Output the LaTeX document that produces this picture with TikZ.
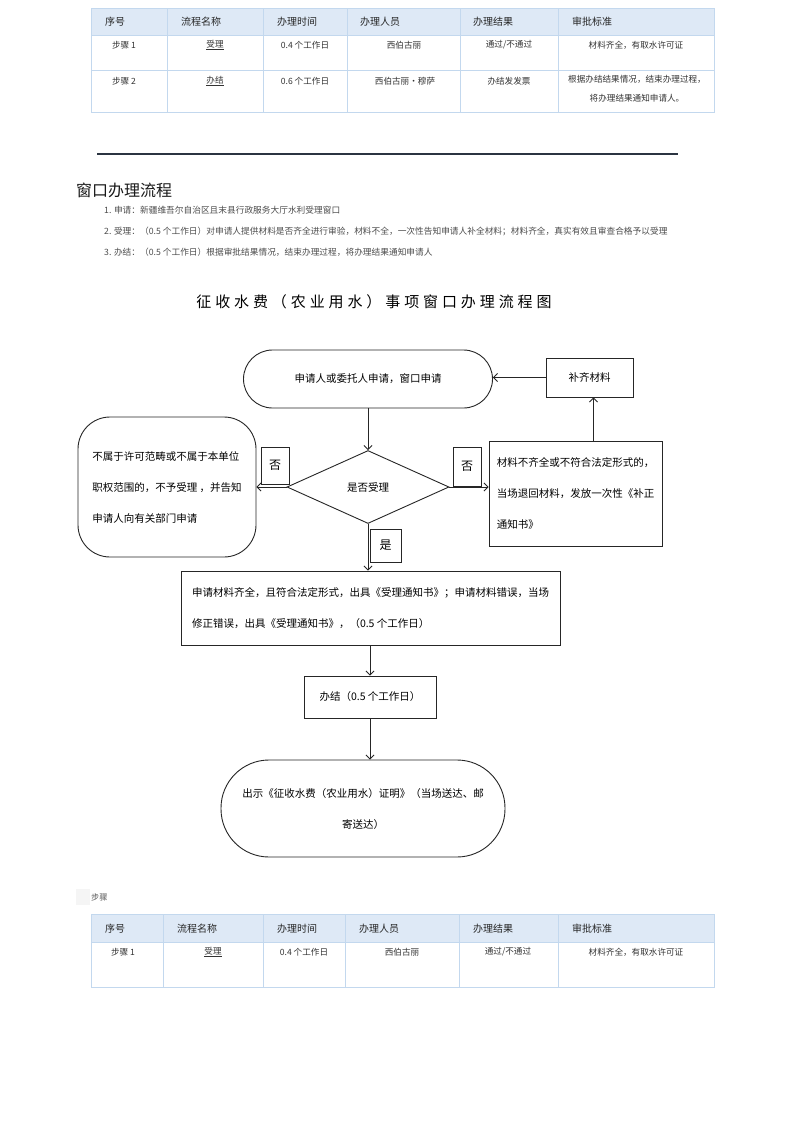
\documentclass[tikz,border=0pt]{standalone}
\usepackage{fontspec}
\setmainfont{Noto Sans CJK SC}
\usetikzlibrary{arrows.meta,shapes.geometric}
\definecolor{tborder}{HTML}{C3D8EE}
\definecolor{thead}{HTML}{DEE9F6}
\definecolor{ttext}{HTML}{333333}
\definecolor{rulec}{HTML}{2B3441}
\newcommand\tsp{\hspace{3.9pt}}
\begin{document}
\begin{tikzpicture}[x=1pt,y=-1pt,
  tbl/.style={draw=tborder,line width=0.9pt},
  th/.style={anchor=west,inner sep=0pt,text=black!85,font=\fontsize{10}{12}\selectfont},
  td/.style={inner sep=0pt,text=ttext,font=\fontsize{8.6}{19}\selectfont,align=center},
  item/.style={anchor=west,inner sep=0pt,text=black!70,font=\fontsize{8.7}{10}\selectfont},
  fbox/.style={draw=black!85,line width=0.9pt,fill=white,inner sep=0pt,font=\fontsize{10.5}{31}\selectfont},
  lbl/.style={draw=black!85,line width=0.9pt,fill=white,inner sep=0pt,font=\fontsize{12}{14}\selectfont},
  arr/.style={draw=black!85,line width=0.8pt,-{Straight Barb[length=4pt,width=8pt]}}]
\useasboundingbox (0,0) rectangle (793,1122);
\fill[white] (0,0) rectangle (793,1122);

% ---------- top table ----------
\fill[thead] (91,8) rectangle (714,35);
\draw[tbl] (91,8) rectangle (714,112);
\foreach \x in {167,263,347,460,558} \draw[tbl] (\x,8) -- (\x,112);
\draw[tbl] (91,35) -- (714,35);
\draw[tbl] (91,70) -- (714,70);
\node[th] (ah1) at (105,22) {序号};
\node[th] (ah2) at (181,22) {流程名称};
\node[th] (ah3) at (277,22) {办理时间};
\node[th] (ah4) at (360,22) {办理人员};
\node[th] (ah5) at (473,22) {办理结果};
\node[th] (ah6) at (572,22) {审批标准};
\node[td] (a11) at (124,45) {步骤 1};
\node[td] (a12) at (215,45) {\underline{受理}};
\node[td] (a13) at (305,45) {0.4 个工作日};
\node[td] (a14) at (404,45) {西伯古丽};
\node[td] (a15) at (509,45) {通过/不通过};
\node[td] (a16) at (636,45) {材料齐全，有取水许可证};
\node[td] (a21) at (124,81) {步骤 2};
\node[td] (a22) at (215,81) {\underline{办结}};
\node[td] (a23) at (305,81) {0.6 个工作日};
\node[td] (a24) at (405,81) {西伯古丽・穆萨};
\node[td] (a25) at (509,81) {办结发发票};
\node[td,anchor=north] (a26) at (637,75) {根据办结结果情况，结束办理过程，\\将办理结果通知申请人。};

% ---------- rule ----------
\draw[rulec,line width=1.5pt] (97,154) -- (678,154);

% ---------- heading and items ----------
\node[anchor=west,inner sep=0pt,text=black!90,font=\fontsize{16}{18}\selectfont] (head) at (76,190) {窗口办理流程};
\node[item] (it1) at (104,210) {1. 申请：新疆维吾尔自治区且末县行政服务大厅水利受理窗口};
\node[item] (it2) at (104,231) {2. 受理：（0.5 个工作日）对申请人提供材料是否齐全进行审验，材料不全，一次性告知申请人补全材料；材料齐全，真实有效且审查合格予以受理};
\node[item] (it3) at (104,252) {3. 办结：（0.5 个工作日）根据审批结果情况，结束办理过程，将办理结果通知申请人};

% ---------- flowchart title ----------
\node[inner sep=0pt,font=\fontsize{15}{18}\selectfont] (title) at (374,302) {征\tsp 收\tsp 水\tsp 费\tsp （\tsp 农\tsp 业\tsp 用\tsp 水\tsp ）\tsp 事\tsp 项\tsp 窗\tsp 口\tsp 办\tsp 理\tsp 流\tsp 程\tsp 图};

% ---------- flowchart ----------
\node[fbox,rounded corners=29pt,minimum width=249pt,minimum height=58pt] (st) at (368,379) {申请人或委托人申请，窗口申请};
\node[fbox,minimum width=87pt,minimum height=39pt] (bq) at (589.5,377.5) {补齐材料};
\node[fbox,diamond,aspect=2.2,minimum width=162pt,minimum height=73pt] (dia) at (368,487) {是否受理};
\node[fbox,rounded corners=32pt,minimum width=178pt,minimum height=140pt,align=left] (lb) at (167,487) {不属于许可范畴或不属于本单位\\职权范围的，不予受理 ，并告知\\申请人向有关部门申请};
\node[fbox,minimum width=173pt,minimum height=105pt,align=left] (rb) at (575.5,493.5) {材料不齐全或不符合法定形式的，\\当场退回材料，发放一次性《补正\\通知书》};
\node[fbox,minimum width=379pt,minimum height=74pt,align=left] (b3) at (370.5,608) {申请材料齐全，且符合法定形式，出具《受理通知书》；申请材料错误，当场\\修正错误，出具《受理通知书》，（0.5 个工作日）};
\node[fbox,minimum width=132pt,minimum height=42pt] (bj) at (370,697) {办结（0.5 个工作日）};
\node[fbox,rounded corners=48pt,minimum width=284pt,minimum height=97pt,align=center] (en) at (363,808.5) {出示《征收水费（农业用水）证明》（当场送达、邮\\寄送达）};

\draw[arr] (bq.west) -- (bq.west -| st.east);
\draw[arr] (st.south) -- (dia.north);
\draw[arr] (dia.west) -- (lb.east |- dia.west);
\draw[arr] (dia.east) -- (dia.east -| rb.west);
\draw[arr] ([xshift=4pt]bq.south |- rb.north) -- ([xshift=4pt]bq.south);
\draw[arr] (dia.south) -- (dia.south |- b3.north);
\draw[arr] (bj.north |- b3.south) -- (bj.north);
\draw[arr] (bj.south) -- (bj.south |- en.north);

\node[lbl,minimum width=28pt,minimum height=37pt] (nol) at (275,465.5) {否};
\node[lbl,minimum width=28pt,minimum height=39pt] (nor) at (467,466.5) {否};
\node[lbl,minimum width=31pt,minimum height=33pt] (yes) at (385.5,545.5) {是};

% ---------- bottom section ----------
\fill[black!4] (76,889) rectangle (90,905);
\node[anchor=west,inner sep=0pt,text=black!65,font=\fontsize{8.2}{10}\selectfont] (bz) at (91,897) {步骤};
\fill[thead] (91,914) rectangle (714,942);
\draw[tbl] (91,914) rectangle (714,987);
\foreach \x in {163,263,345,459,558} \draw[tbl] (\x,914) -- (\x,987);
\draw[tbl] (91,942) -- (714,942);
\node[th] (bh1) at (105,929) {序号};
\node[th] (bh2) at (177,929) {流程名称};
\node[th] (bh3) at (277,929) {办理时间};
\node[th] (bh4) at (359,929) {办理人员};
\node[th] (bh5) at (473,929) {办理结果};
\node[th] (bh6) at (572,929) {审批标准};
\node[td] (b11) at (123,952) {步骤 1};
\node[td] (b12) at (213,952) {\underline{受理}};
\node[td] (b13) at (304,952) {0.4 个工作日};
\node[td] (b14) at (402,952) {西伯古丽};
\node[td] (b15) at (508,952) {通过/不通过};
\node[td] (b16) at (636,952) {材料齐全，有取水许可证};
\end{tikzpicture}
\end{document}
